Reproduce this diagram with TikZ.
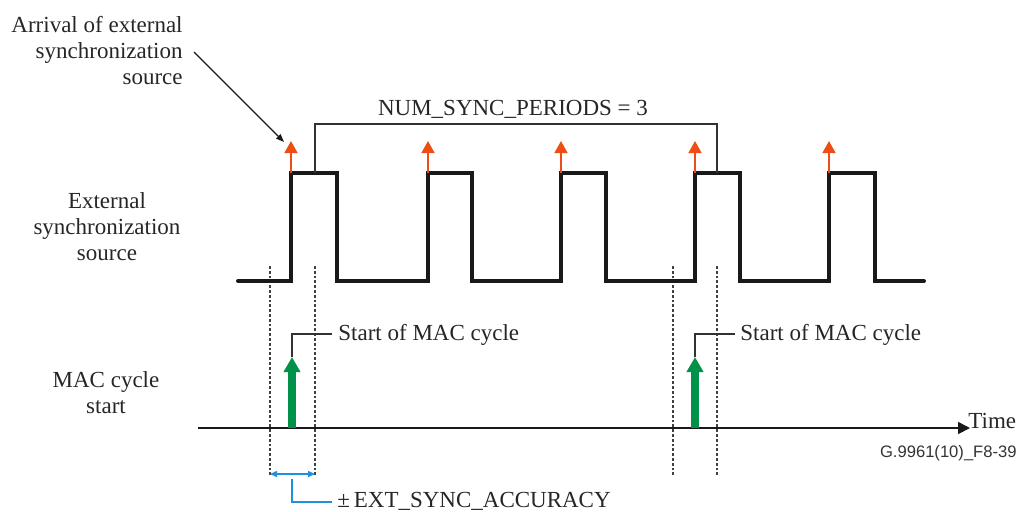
\documentclass[tikz,border=0pt]{standalone}
\usepackage{fontspec}
\setmainfont{Liberation Serif}
\newfontfamily\figsans{Liberation Sans}
\usetikzlibrary{arrows.meta}
\definecolor{sigred}{RGB}{238,78,22}
\definecolor{macgreen}{RGB}{0,146,72}
\definecolor{accblue}{RGB}{30,144,224}
\definecolor{thinline}{RGB}{50,50,50}
\begin{document}
\begin{tikzpicture}[x=0.5pt,y=-0.5pt,
  lbl/.style={font=\fontsize{11.5}{13}\selectfont, inner sep=0pt, text=black!85},
  wave/.style={line width=2pt, line join=miter, line cap=round, black!90},
  redarrow/.style={sigred, line width=0.8pt, -{Triangle[length=6pt,width=6.5pt]}},
  greenarrow/.style={macgreen, line width=4pt, -{Triangle[length=7.5pt,width=8pt]}},
  guide/.style={line width=0.8pt, black!75, dash pattern=on 1.4pt off 1pt},
  callout/.style={line width=0.75pt, thinline},
  bluearrow/.style={accblue, line width=0.75pt, {Triangle[length=3.5pt,width=3pt]}-{Triangle[length=3.5pt,width=3pt]}},
  bluecallout/.style={accblue, line width=0.75pt},
  axis/.style={line width=0.85pt, black!90, -{Triangle[length=6pt,width=6pt]}},
  pointer/.style={line width=0.6pt, black!90, -{Triangle[length=4pt,width=3pt]}}]
\useasboundingbox (0,0) rectangle (1022,511);

% labels
\node[lbl, align=right, anchor=north east] (arrival) at (183,16) {Arrival of external\\synchronization\\source};
\node[lbl, align=center, anchor=north] (extsrc) at (107,192) {External\\synchronization\\source};
\node[lbl, align=center, anchor=north] (macstart) at (106,371) {MAC cycle\\start};
\node[lbl, anchor=base] (nsp) at (513,115) {NUM\_SYNC\_PERIODS = 3};
\node[lbl, anchor=base west] (start1) at (338,340) {Start of MAC cycle};
\node[lbl, anchor=base west] (start2) at (740,340) {Start of MAC cycle};
\node[lbl, anchor=base west] (acc) at (337,507) {±\,EXT\_SYNC\_ACCURACY};
\node[lbl, anchor=base west] (time) at (968,428) {Time};
\node[inner sep=0pt, anchor=base east, font=\figsans\fontsize{8.3}{10}\selectfont, text=black!80] (fig) at (1017,457) {G.9961(10)\_F8-39};

% coordinates
\coordinate (arrivalfrom) at (194,52);
\coordinate (arrivalto) at (284,142);
\foreach \n/\x in {1/291,2/428,3/561,4/695,5/829}{
  \coordinate (rb\n) at (\x,173);
  \coordinate (rt\n) at (\x,141);
}
\coordinate (axisL) at (198,428);
\coordinate (axisR) at (970,428);
\coordinate (g1b) at (292,428); \coordinate (g1t) at (292,357);
\coordinate (g2b) at (695,428); \coordinate (g2t) at (695,357);

% dotted guides
\foreach \x in {270,315,673,717}{
  \draw[guide] (\x,266) -- (\x,475);
}

% waveform
\draw[wave] (238,281) -- (291,281) -- (291,173) -- (337,173) -- (337,281)
  -- (428,281) -- (428,173) -- (472,173) -- (472,281)
  -- (561,281) -- (561,173) -- (606,173) -- (606,281)
  -- (695,281) -- (695,173) -- (740,173) -- (740,281)
  -- (829,281) -- (829,173) -- (875,173) -- (875,281) -- (924,281);

% red arrivals
\foreach \n in {1,...,5}{
  \draw[redarrow] (rb\n) -- (rt\n);
}

% NUM_SYNC bracket
\draw[callout] (315,173) -- (315,124) -- (717,124) -- (717,173);

% pointer from arrival label
\draw[pointer] (arrivalfrom) -- (arrivalto);

% time axis
\draw[axis] (axisL) -- (axisR);

% green MAC arrows
\draw[greenarrow] (g1b) -- (g1t);
\draw[greenarrow] (g2b) -- (g2t);

% callouts
\draw[callout] (g1t) -- (292,334) -- (332,334);
\draw[callout] (g2t) -- (695,334) -- (735,334);

% accuracy
\draw[bluearrow] (270,474) -- (315,474);
\draw[bluecallout] (292,479) -- (292,502) -- (332,502);
\end{tikzpicture}
\end{document}
